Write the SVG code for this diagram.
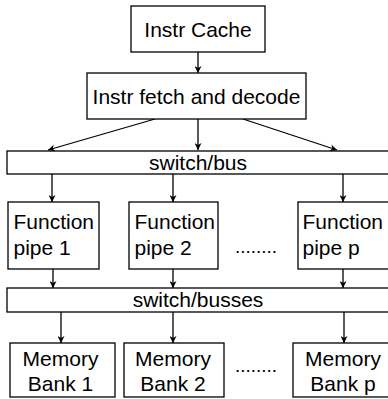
<svg xmlns="http://www.w3.org/2000/svg" width="388" height="399" viewBox="0 0 388 399">
<defs>
<style>
.box{fill:#fff;stroke:#000;stroke-width:1.3}
.t{font-family:"Liberation Sans",Arial,sans-serif;font-size:21px;fill:#000;text-anchor:middle}
.l{text-anchor:start}
.c{stroke:#000;stroke-width:1.3;fill:none;marker-end:url(#ah)}
</style>
<marker id="ah" viewBox="0 0 10 10" refX="10" refY="5" markerWidth="7" markerHeight="7" markerUnits="userSpaceOnUse" orient="auto">
<path d="M0,0 L10,5 L0,10 L3,5 Z" fill="#000"/>
</marker>
</defs>
<rect width="388" height="399" fill="#fff"/>
<g id="connectors">
<line class="c" x1="198" y1="52" x2="198" y2="73"/>
<line class="c" x1="155" y1="119" x2="48" y2="150"/>
<line class="c" x1="198" y1="119" x2="198" y2="150"/>
<line class="c" x1="243" y1="119" x2="337" y2="150"/>
<line class="c" x1="52" y1="174" x2="52" y2="202"/>
<line class="c" x1="173" y1="174" x2="173" y2="202"/>
<line class="c" x1="343" y1="174" x2="343" y2="202"/>
<line class="c" x1="53" y1="269" x2="53" y2="288"/>
<line class="c" x1="173" y1="269" x2="173" y2="288"/>
<line class="c" x1="343" y1="269" x2="343" y2="288"/>
<line class="c" x1="61" y1="312" x2="61" y2="343"/>
<line class="c" x1="173" y1="312" x2="173" y2="343"/>
<line class="c" x1="344" y1="312" x2="344" y2="343"/>
</g>
<g id="instr-cache">
<rect class="box" x="131" y="6" width="134" height="46"/>
<text class="t" x="198" y="36.5">Instr Cache</text>
</g>
<g id="instr-fetch">
<rect class="box" x="87" y="73" width="219" height="46"/>
<text class="t" x="196.5" y="103.5">Instr fetch and decode</text>
</g>
<g id="switch-bus">
<rect class="box" x="7" y="151" width="395" height="23"/>
<text class="t" x="198" y="170">switch/bus</text>
</g>
<g id="pipe1">
<rect class="box" x="8" y="202" width="91" height="67"/>
<text class="t l" x="13.5" y="228.5">Function</text>
<text class="t l" x="13.5" y="255">pipe 1</text>
</g>
<g id="pipe2">
<rect class="box" x="129" y="202" width="89" height="67"/>
<text class="t l" x="134.5" y="228.5">Function</text>
<text class="t l" x="134.5" y="255">pipe 2</text>
</g>
<text class="t" x="256" y="253" style="font-size:19px">........</text>
<g id="pipep">
<rect class="box" x="298" y="202" width="92" height="67"/>
<text class="t l" x="302.5" y="228.5">Function</text>
<text class="t l" x="302.5" y="255">pipe p</text>
</g>
<g id="switch-busses">
<rect class="box" x="7" y="288" width="395" height="24"/>
<text class="t" x="198" y="307">switch/busses</text>
</g>
<g id="mem1">
<rect class="box" x="10" y="343" width="105" height="54"/>
<text class="t" x="60.5" y="365.5">Memory</text>
<text class="t" x="60.5" y="391">Bank 1</text>
</g>
<g id="mem2">
<rect class="box" x="124" y="343" width="100" height="54"/>
<text class="t" x="173" y="365.5">Memory</text>
<text class="t" x="173" y="391">Bank 2</text>
</g>
<text class="t" x="256" y="372" style="font-size:19px">........</text>
<g id="memp">
<rect class="box" x="293" y="343" width="100" height="54"/>
<text class="t" x="343" y="365.5">Memory</text>
<text class="t" x="343" y="391">Bank p</text>
</g>
</svg>
